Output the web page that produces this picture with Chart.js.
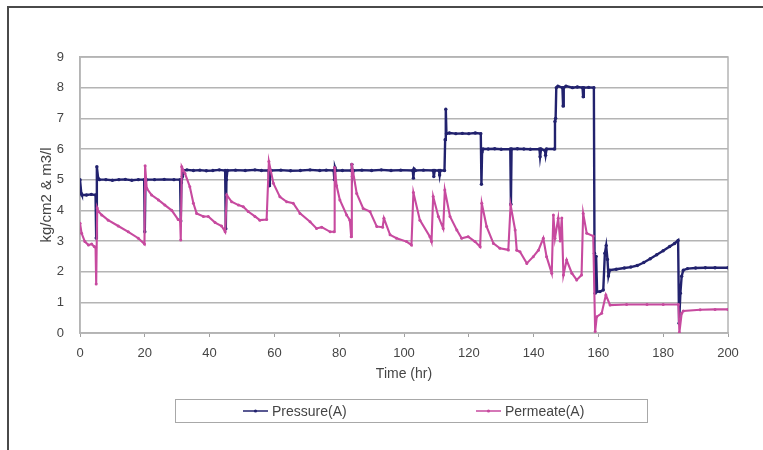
<!DOCTYPE html>
<html>
<head>
<meta charset="utf-8">
<script src="https://cdn.jsdelivr.net/npm/chart.js@4.4.1/dist/chart.umd.min.js"></script>
<style>
  body { margin: 0; background: #fff; }
</style>
</head>
<body>
<canvas id="myChart" width="763" height="450"></canvas>
<script>
const ctx = document.getElementById("myChart");

// Pressure(A): time (hr) and value
const pressureTime = [
  0, 0.4, 0.6, 2, 3.5, 4.8, 5.0, 5.2, 5.6, 6,
  8, 10, 12, 14, 16, 18, 19.8, 20.0, 20.2, 20.5,
  23, 26, 29, 30.9, 31.1, 31.3, 31.6, 32, 33, 35,
  37, 39, 41, 43, 44.8, 45.0, 45.2, 45.5, 48, 51,
  54, 56, 58.2, 58.4, 58.6, 59, 62, 65, 68, 71,
  74, 76, 78.3, 78.5, 78.7, 79, 81, 83.7, 83.9, 84.1,
  84.4, 87, 90, 93, 96, 99, 102.7, 102.9, 103.1, 103.5,
  106, 109, 109.2, 109.5, 110.8, 111, 111.2, 112.5, 112.7, 112.9,
  113.1, 114, 116, 118, 120, 122, 123.7, 123.9, 124.1, 124.4,
  126, 128, 130, 132.8, 133.0, 133.2, 135, 137, 139, 141.8,
  142, 142.3, 143.5, 143.7, 144, 146.4, 146.6, 146.8, 147, 147.5,
  148.9, 149.1, 149.3, 150, 152, 153.5, 155.1, 155.3, 155.5, 157,
  158.6, 158.8, 159.0, 159.3, 159.6, 160.5, 161.5, 162.0, 162.4, 162.8,
  163.1, 163.5, 165.5, 168, 170, 172, 174, 176, 178, 180,
  182, 183.5, 184.6, 184.9, 185.3, 185.7, 186.2, 187.5, 190, 193,
  196, 200
];
const pressureValue = [
  5.0, 4.55, 4.5, 4.5, 4.52, 4.5, 3.1, 5.42, 5.05, 5.0,
  5.0, 4.98, 5.0, 5.01, 4.98, 5.0, 5.0, 3.3, 4.95, 5.0,
  5.0, 5.01, 5.0, 5.0, 3.65, 4.9, 5.1, 5.3, 5.32, 5.3,
  5.31, 5.29, 5.3, 5.32, 5.3, 3.4, 5.0, 5.3, 5.31, 5.3,
  5.32, 5.3, 5.3, 4.8, 5.2, 5.3, 5.31, 5.29, 5.3, 5.32,
  5.3, 5.31, 5.3, 5.0, 5.4, 5.3, 5.3, 5.3, 5.5, 5.1,
  5.3, 5.31, 5.3, 5.32, 5.3, 5.31, 5.3, 5.05, 5.35, 5.3,
  5.31, 5.3, 5.1, 5.3, 5.3, 5.15, 5.3, 5.3, 6.3, 7.3,
  6.5, 6.52, 6.5, 6.51, 6.5, 6.52, 6.5, 4.85, 5.9, 6.0,
  6.0, 6.01, 5.99, 6.0, 4.2, 6.0, 6.01, 6.0, 5.99, 6.0,
  5.75, 6.0, 5.95, 5.8, 6.0, 6.0, 6.9, 7.0, 8.0, 8.05,
  8.0, 7.4, 8.0, 8.05, 8.0, 8.02, 8.0, 7.7, 8.0, 8.01,
  8.0, 2.6, 1.3, 2.5, 1.35, 1.35, 1.4, 2.6, 2.85, 2.4,
  1.86, 2.05, 2.08, 2.12, 2.15, 2.2, 2.3, 2.42, 2.55, 2.68,
  2.82, 2.92, 3.02, 0.32, 1.3, 1.85, 2.05, 2.1, 2.12, 2.13,
  2.13, 2.13
];

// Permeate(A): time (hr) and value
const permeateTime = [
  0, 0.5, 1.5, 2.6, 3.6, 4.4, 4.8, 5.0, 5.3, 5.7,
  6.7, 8.7, 11.8, 14.9, 18, 19.9, 20.1, 20.6, 22.1, 24.2,
  26.2, 28.3, 30.3, 30.9, 31.1, 31.4, 32.4, 33.9, 35, 36,
  38.1, 39.6, 41.7, 43.7, 44.8, 45.3, 46.8, 48.9, 50.4, 51.9,
  54, 55.5, 57.6, 58.3, 59.7, 61.7, 63.8, 65.8, 67.9, 71,
  73, 74.6, 77.2, 78.4, 78.6, 79.2, 80.2, 82.3, 83.3, 83.7,
  83.9, 85.4, 87.4, 89.5, 91.6, 93.4, 93.8, 95.7, 97.7, 100.8,
  102.3, 102.9, 104.9, 108, 108.5, 109, 110.6, 112.1, 112.6, 114.2,
  116.3, 117.8, 119.8, 121.9, 123.5, 124, 125.5, 127.6, 129.6, 132.2,
  132.9, 134.3, 134.8, 135.8, 137.9, 139.9, 141.5, 143, 144, 145.6,
  146.1, 146.6, 147.6, 148.2, 148.7, 149.2, 150.2, 151.8, 153.3, 154.8,
  155.3, 156.4, 158.4, 159, 159.5, 161, 162.3, 163.6, 168.7, 175,
  180, 184.7, 185, 185.7, 186.2, 191.4, 196, 200
];
const permeateValue = [
  3.58, 3.25, 2.98, 2.87, 2.9, 2.82, 2.8, 1.6, 4.08, 3.96,
  3.85, 3.68, 3.49, 3.3, 3.09, 2.9, 5.45, 4.72, 4.5, 4.34,
  4.17, 4.0, 3.7, 3.68, 3.03, 5.42, 5.2, 4.77, 4.23, 3.9,
  3.8, 3.8, 3.6, 3.49, 3.3, 4.5, 4.28, 4.17, 4.12, 3.96,
  3.8, 3.68, 3.7, 5.59, 4.88, 4.44, 4.28, 4.23, 3.9, 3.63,
  3.41, 3.45, 3.3, 3.3, 5.4, 4.8, 4.34, 3.85, 3.68, 3.14,
  5.5, 4.55, 4.06, 3.96, 3.47, 3.45, 3.74, 3.2, 3.09, 2.98,
  2.87, 4.58, 3.68, 3.14, 2.98, 4.45, 3.8, 3.41, 4.66, 3.8,
  3.36, 3.09, 3.14, 2.98, 2.81, 4.23, 3.47, 2.92, 2.76, 2.71,
  4.17, 3.36, 2.7, 2.65, 2.27, 2.49, 2.7, 3.09, 2.49, 1.95,
  3.85, 3.09, 3.74, 3.0, 3.75, 1.89, 2.38, 1.95, 1.73, 1.89,
  3.9, 3.25, 3.16, 0.05, 0.53, 0.64, 1.24, 0.91, 0.93, 0.93,
  0.93, 0.93, 0.02, 0.64, 0.72, 0.76, 0.77, 0.77
];

const xTicks = [0, 20, 40, 60, 80, 100, 120, 140, 160, 180, 200];
const yTicks = [0, 1, 2, 3, 4, 5, 6, 7, 8, 9];

const blue = "#22226e";
const pink = "#c74a9f";
const textColor = "#454545";
const font = "'Liberation Sans', Arial, sans-serif";

function points(times, values) {
  return times.map((t, i) => ({ x: t, y: values[i] }));
}

// frame, plot border and legend box
const decorations = {
  id: "decorations",
  beforeDatasetsDraw(chart) {
    const a = chart.chartArea;
    const c = chart.ctx;
    c.save();
    c.strokeStyle = "#b4b4b4";
    c.lineWidth = 1.5;
    c.strokeRect(a.left, a.top, a.right - a.left, a.bottom - a.top);
    c.restore();
  },
  afterDraw(chart) {
    const c = chart.ctx;
    c.save();
    c.strokeStyle = "#4a4a4a";
    c.lineWidth = 2;
    c.beginPath();
    c.moveTo(8, 450);
    c.lineTo(8, 7);
    c.lineTo(763, 7);
    c.stroke();

    c.strokeStyle = "#a8a8a8";
    c.lineWidth = 1;
    c.strokeRect(175.5, 399.5, 472, 23);

    const legendX = [243, 476];
    chart.data.datasets.forEach((ds, i) => {
      const x = legendX[i];
      const y = 411;
      c.strokeStyle = ds.borderColor;
      c.lineWidth = 1.5;
      c.beginPath();
      c.moveTo(x, y);
      c.lineTo(x + 25, y);
      c.stroke();
      c.fillStyle = ds.borderColor;
      c.beginPath();
      c.arc(x + 12.5, y, 1.6, 0, Math.PI * 2);
      c.fill();
      c.fillStyle = textColor;
      c.font = "14px " + font;
      c.textBaseline = "middle";
      c.textAlign = "left";
      c.fillText(ds.label, x + 29, y + 1);
    });
    c.restore();
  },
};

const myChart = new Chart(ctx, {
  type: "line",
  data: {
    datasets: [
      {
        label: "Pressure(A)",
        data: points(pressureTime, pressureValue),
        borderColor: blue,
        backgroundColor: blue,
        borderWidth: 2.4,
        pointRadius: 1.7,
        pointBorderWidth: 0,
        pointBackgroundColor: blue,
        order: 2,
      },
      {
        label: "Permeate(A)",
        data: points(permeateTime, permeateValue),
        borderColor: pink,
        backgroundColor: pink,
        borderWidth: 2.1,
        pointRadius: 1.5,
        pointBorderWidth: 0,
        pointBackgroundColor: pink,
        order: 1,
      },
    ],
  },
  options: {
    responsive: false,
    animation: false,
    layout: { padding: { left: 38, top: 57, right: 35, bottom: 67 } },
    plugins: {
      legend: { display: false },
      tooltip: { enabled: false },
    },
    scales: {
      x: {
        type: "linear",
        min: 0,
        max: 200,
        afterBuildTicks: (s) => { s.ticks = xTicks.map((v) => ({ value: v })); },
        afterFit: (s) => { s.height = 50; },
        grid: { drawOnChartArea: false, drawTicks: true, tickLength: 4, color: "#a0a0a0" },
        border: { color: "#b4b4b4", width: 1.5 },
        ticks: { padding: 9, color: textColor, font: { family: font, size: 13 } },
        title: {
          display: true,
          text: "Time (hr)",
          color: textColor,
          padding: 0,
          font: { family: font, size: 14 },
        },
      },
      y: {
        min: 0,
        max: 9,
        afterBuildTicks: (s) => { s.ticks = yTicks.map((v) => ({ value: v })); },
        afterFit: (s) => { s.width = 42; },
        grid: { color: "#b4b4b4", lineWidth: 1.5, drawTicks: false },
        border: { color: "#b4b4b4", width: 1.5 },
        ticks: { padding: 16, color: textColor, font: { family: font, size: 13 } },
        title: {
          display: true,
          text: "kg/cm2 & m3/l",
          color: textColor,
          padding: 0,
          font: { family: font, size: 15 },
        },
      },
    },
  },
  plugins: [decorations],
});
</script>
</body>
</html>
